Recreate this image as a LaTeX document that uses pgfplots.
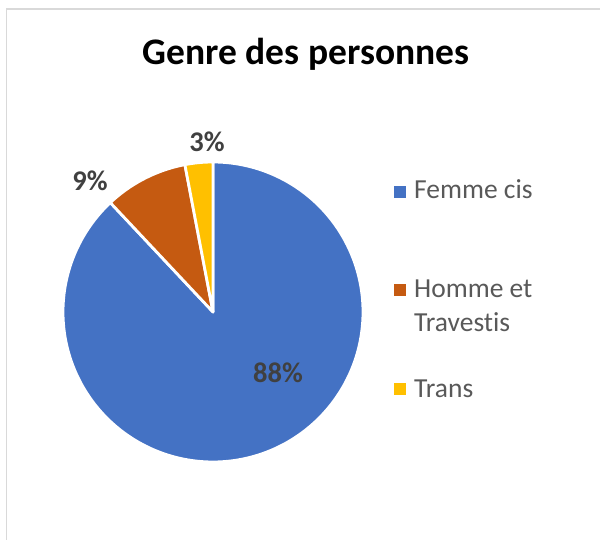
\documentclass[border=0pt]{standalone}
\usepackage{fontspec}
\setmainfont{Carlito}[Ligatures={NoCommon}]
\usepackage{pgfplots}
\pgfplotsset{compat=1.18}
\definecolor{cblue}{HTML}{4472C4}
\definecolor{corange}{HTML}{C55A11}
\definecolor{cyellow}{HTML}{FFC000}
\definecolor{lbl}{HTML}{404040}
\definecolor{leg}{HTML}{595959}
\definecolor{framec}{HTML}{D9D9D9}
% data (percent)
\def\vFemme{88}
\def\vHomme{9}
\def\vTrans{3}
\pgfmathsetmacro{\aT}{90}
\pgfmathsetmacro{\bT}{90+3.6*\vTrans}
\pgfmathsetmacro{\bH}{\bT+3.6*\vHomme}
\pgfmathsetmacro{\bF}{\bH+3.6*\vFemme}
\begin{document}
\begin{tikzpicture}
\useasboundingbox (0,0) rectangle (600pt,540pt);
\begin{axis}[at={(0,0)}, anchor=south west, scale only axis,
  width=600pt, height=540pt, xmin=0, xmax=600, ymin=0, ymax=540,
  hide axis, clip=false]
\draw[framec, line width=1.5pt] (6.5,-5) -- (6.5,531) -- (610,531);
\addplot[fill=cblue, draw=white, line width=2.8pt, line join=round, domain=\bH:\bF, samples=240, variable=\t]
  ({213+150*cos(\t)},{228+150*sin(\t)}) -- (213,228) -- cycle;
\addplot[fill=corange, draw=white, line width=2.8pt, line join=round, domain=\bT:\bH, samples=40, variable=\t]
  ({213+150*cos(\t)},{228+150*sin(\t)}) -- (213,228) -- cycle;
\addplot[fill=cyellow, draw=white, line width=2.8pt, line join=round, domain=\aT:\bT, samples=20, variable=\t]
  ({213+150*cos(\t)},{228+150*sin(\t)}) -- (213,228) -- cycle;
% legend markers
\addplot[only marks, mark=square*, mark size=5.5pt, cblue, mark options={draw=none}] coordinates {(400,348.3)};
\addplot[only marks, mark=square*, mark size=5.5pt, corange, mark options={draw=none}] coordinates {(400,250.5)};
\addplot[only marks, mark=square*, mark size=5.5pt, cyellow, mark options={draw=none}] coordinates {(400,151.5)};
% texts
\node[anchor=base, inner sep=0pt, font=\fontsize{37.5}{45}\selectfont\bfseries] at (306,475) {Genre des personnes};
\node[anchor=base west, inner sep=0pt, text=leg, font=\fontsize{27.5}{33}\selectfont] at (414,341) {Femme cis};
\node[anchor=base west, inner sep=0pt, text=leg, font=\fontsize{27.5}{33}\selectfont] at (414,242) {Homme et};
\node[anchor=base west, inner sep=0pt, text=leg, font=\fontsize{27.5}{33}\selectfont] at (414,208) {Travestis};
\node[anchor=base west, inner sep=0pt, text=leg, font=\fontsize{27.5}{33}\selectfont] at (414,142.5) {Trans};
\node[anchor=base, inner sep=0pt, text=lbl, font=\fontsize{28.5}{34}\selectfont\bfseries] at (207,388) {3\%};
\node[anchor=base, inner sep=0pt, text=lbl, font=\fontsize{28.5}{34}\selectfont\bfseries] at (90,349) {9\%};
\node[anchor=base, inner sep=0pt, text=lbl, font=\fontsize{28.5}{34}\selectfont\bfseries] at (278,157.3) {88\%};
\end{axis}
\end{tikzpicture}
\end{document}
